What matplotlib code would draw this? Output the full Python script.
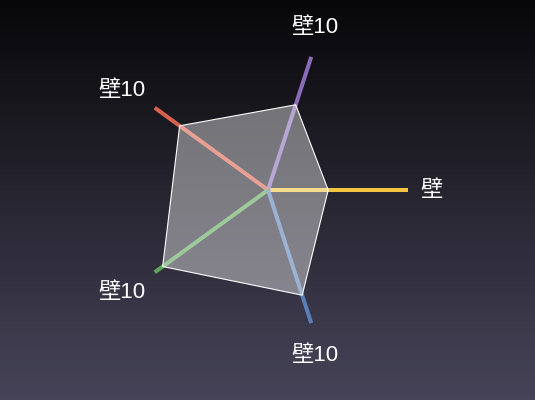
import matplotlib
matplotlib.use("Agg")
import matplotlib.pyplot as plt
from matplotlib.colors import LinearSegmentedColormap
import numpy as np

plt.rcParams['font.family'] = ['Liberation Sans', 'Noto Sans CJK SC', 'DejaVu Sans']

# radar data (max 100)
indicators  = ["壁", "壁10", "壁10", "壁10", "壁10"]
values      = [43, 64, 78, 93, 79]
maxValue    = 100
axisColors  = ["#f5c542", "#8a6bb8", "#d9624f", "#5fa65a", "#5a7fb8"]

fig = plt.figure(figsize=(5.35, 4.0), dpi=100)

# gradient background
bg = fig.add_axes([0, 0, 1, 1], zorder=0)
bgCmap = LinearSegmentedColormap.from_list("bg", ["#070709", "#474459"])
bg.imshow(np.linspace(0, 1, 256).reshape(-1, 1), aspect="auto", cmap=bgCmap,
          extent=[0, 1, 0, 1], origin="upper")
bg.axis("off")

# radar axes, center at (268, 190) px, radius 140 px
ax = fig.add_axes([0, 0, 1, 1], zorder=1)
ax.patch.set_alpha(0)
radiusPx = 140
ax.set_xlim(-268 / radiusPx, (535 - 268) / radiusPx)
ax.set_ylim(-(400 - 190) / radiusPx, 190 / radiusPx)
ax.axis("off")

angles = np.deg2rad(np.arange(len(indicators)) * 72)

for angle, color in zip(angles, axisColors):
    ax.plot([0, np.cos(angle)], [0, np.sin(angle)], color=color, lw=2.9,
            solid_capstyle="butt", zorder=2)

r = np.array(values) / maxValue
px = r * np.cos(angles)
py = r * np.sin(angles)
ax.fill(px, py, facecolor="white", alpha=0.4, edgecolor="none", zorder=3)
ax.fill(px, py, facecolor="none", edgecolor="white", lw=0.8, zorder=4)

# indicator names
gap = 12 / radiusPx
for angle, name in zip(angles, indicators):
    c, s = np.cos(angle), np.sin(angle)
    x, y = (1 + gap) * c, (1 + gap) * s
    ha = "left" if c > 0.5 else ("right" if c < -0.5 else "center")
    va = "bottom" if s > 0.3 else ("top" if s < -0.3 else "center")
    if ha == "center":
        y += np.sign(s) * 7 / radiusPx
    if va == "top":
        y -= 3 / radiusPx
    ax.text(x, y, name, color="white", fontsize=16, ha=ha, va=va, zorder=5)

fig.savefig("out.png", dpi=100)
